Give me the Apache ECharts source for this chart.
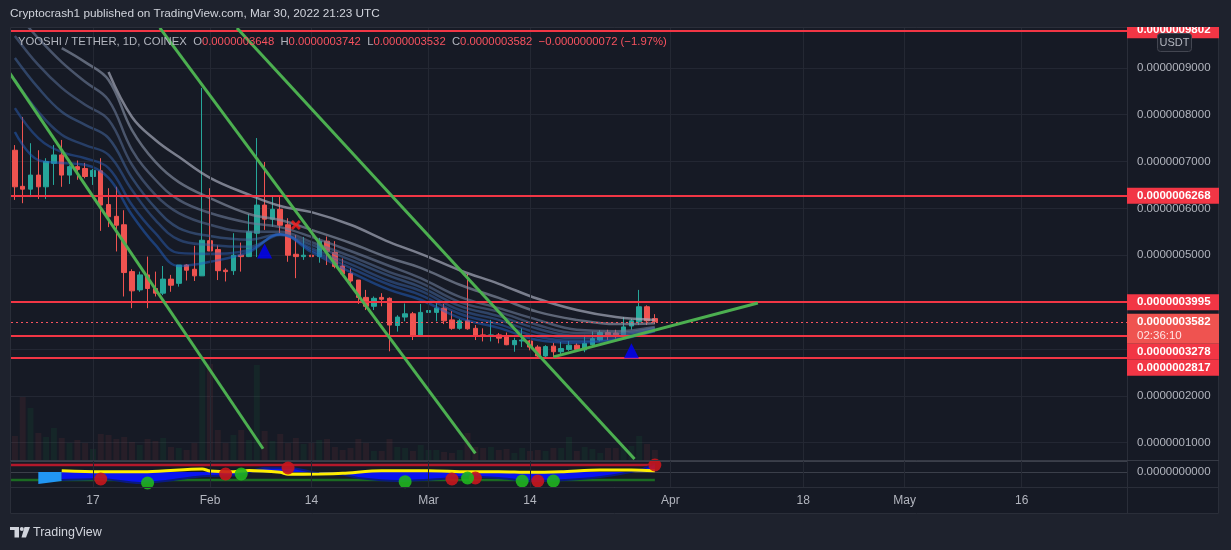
<!DOCTYPE html>
<html><head><meta charset="utf-8">
<script src="https://cdn.jsdelivr.net/npm/echarts@6/dist/echarts.min.js"></script>
<style>html,body{margin:0;padding:0;background:#1e222d;}#c{width:1231px;height:550px;}</style>
</head><body><div id="c"></div>
<script>
// All prices are in units of 1e-7 USDT
const PRICE_UNIT = 1e-7;
const FONT = '"Liberation Sans", Arial, sans-serif';

// daily categories Jan 7 .. May 29, 2022
const categories = [];
for (let i = 0; i < 143; i++) { categories.push(new Date(Date.UTC(2022, 0, 7) + i * 86400000).toISOString().slice(0, 10)); }
const tickDates = ['2022-01-17','2022-02-01','2022-02-14','2022-03-01','2022-03-14','2022-04-01','2022-04-18','2022-05-01','2022-05-16'];
const tickLabels = ['17','Feb','14','Mar','14','Apr','18','May','16'];

const opens = [7.24,6.47,6.41,6.71,6.46,6.96,7.14,6.71,6.89,6.85,6.68,6.80,6.08,5.83,5.65,4.65,4.26,4.58,4.29,4.19,4.49,4.40,4.79,4.70,4.56,5.31,5.12,4.68,4.67,5.00,4.97,5.47,6.07,5.77,5.98,5.65,5.02,4.97,5.00,4.97,5.30,5.06,4.77,4.61,4.47,4.10,3.91,4.10,4.08,3.50,3.68,3.75,3.28,3.78,3.78,3.87,3.62,3.44,3.60,3.44,3.30,3.27,3.30,3.26,3.09,3.17,3.17,3.04,2.85,3.06,2.94,2.99,3.08,2.98,3.09,3.19,3.35,3.34,3.30,3.49,3.58,3.90,3.648];
const closes = [6.46,6.41,6.71,6.46,7.00,7.14,6.71,6.89,6.83,6.68,6.81,6.07,5.82,5.64,4.63,4.24,4.58,4.29,4.19,4.49,4.36,4.79,4.68,4.56,5.32,5.09,4.67,4.65,5.00,4.97,5.50,6.07,5.77,5.98,5.64,5.00,4.97,5.00,4.97,5.30,5.08,4.76,4.60,4.45,4.10,3.91,4.08,4.06,3.51,3.68,3.75,3.28,3.78,3.82,3.87,3.60,3.44,3.60,3.43,3.28,3.27,3.30,3.23,3.09,3.18,3.19,3.04,2.85,3.05,2.94,3.01,3.08,2.99,3.12,3.22,3.35,3.28,3.28,3.47,3.60,3.90,3.60,3.582];
const lows = [6.18,6.11,6.24,6.20,6.20,6.50,6.46,6.52,6.61,6.64,6.50,5.52,5.60,5.08,4.12,3.87,4.22,3.87,4.12,4.15,4.22,4.33,4.46,4.45,4.56,5.09,4.47,4.44,4.58,4.65,4.96,4.96,5.54,5.61,5.47,4.86,4.51,4.90,4.76,4.84,4.79,4.72,4.58,4.32,3.96,3.83,3.83,3.91,2.95,3.37,3.59,3.19,3.28,3.59,3.59,3.53,3.41,3.41,3.41,3.19,3.16,3.16,3.12,3.08,2.94,3.04,2.97,2.83,2.83,2.83,2.89,2.96,2.96,2.93,3.06,3.16,3.19,3.22,3.28,3.41,3.51,3.51,3.532];
const highs = [7.35,7.95,7.39,7.24,7.07,7.35,7.46,6.92,7.02,6.97,6.84,7.07,6.43,6.46,5.96,4.70,4.65,4.97,4.65,4.77,4.58,4.79,4.81,5.20,8.57,6.43,5.21,4.72,5.47,5.27,5.88,7.50,6.99,6.25,6.28,5.79,5.43,5.39,5.24,5.37,5.40,5.30,4.93,4.72,4.47,4.26,4.12,4.19,4.10,3.72,3.97,3.79,3.96,4.01,4.00,3.96,3.81,3.64,4.60,3.51,3.44,3.62,3.34,3.35,3.24,3.44,3.19,3.08,3.08,3.13,3.15,3.17,3.12,3.30,3.37,3.40,3.41,3.41,3.68,3.64,4.26,3.93,3.742];
// volume (relative units)
const volumes = [24,63,52,27,23,32,22,17,20,17,11,26,25,21,23,18,15,21,19,22,13,12,10,17,100,96,30,17,25,30,20,95,29,19,26,17,22,16,17,20,21,13,10,12,21,17,9,9,21,13,12,9,15,10,10,8,7,10,27,13,12,13,10,11,7,12,9,10,9,12,12,23,9,13,11,7,12,12,13,14,24,16,10];

// moving-average ribbon, sampled at day indices
const emaIdx = [0,3,6,9,12,15,18,21,25,30,34,38,43,48,52,57,62,67,72,77,82];
const ema1 = [7.63,7.03,6.97,6.93,6.65,5.86,5.22,4.77,4.86,5.07,5.45,5.07,4.64,4.26,4.05,3.66,3.45,3.19,3.13,3.19,3.38];
const ema2 = [8.14,7.50,7.20,7.07,6.86,6.07,5.47,5.05,5.03,5.11,5.45,5.11,4.73,4.37,4.15,3.75,3.53,3.26,3.17,3.21,3.38];
const ema3 = [8.74,8.06,7.57,7.35,7.14,6.39,5.75,5.33,5.22,5.18,5.43,5.15,4.81,4.45,4.24,3.83,3.62,3.34,3.23,3.26,3.41];
const ema4 = [9.21,8.57,8.06,7.78,7.50,6.65,6.01,5.58,5.41,5.33,5.45,5.22,4.90,4.56,4.32,3.92,3.70,3.43,3.28,3.30,3.43];
const ema5 = [9.68,9.06,8.57,8.21,7.89,6.93,6.29,5.90,5.65,5.50,5.50,5.28,4.98,4.64,4.41,4.00,3.79,3.51,3.34,3.34,3.45];
const ema6 = [10.2,9.63,9.12,8.70,8.31,7.25,6.61,6.18,5.90,5.69,5.60,5.39,5.09,4.77,4.51,4.11,3.87,3.62,3.41,3.38,3.47];
const ema7 = [null,null,9.42,9.12,8.74,7.67,6.99,6.56,6.22,5.88,5.75,5.54,5.26,4.94,4.73,4.37,4.09,3.79,3.62,3.53,3.55];
const ema8 = [null,null,null,null,8.91,7.95,7.46,7.10,6.65,6.29,6.05,5.92,5.65,5.28,5.03,4.68,4.39,4.07,3.83,3.68,3.62];
const emaSets = [ema8, ema7, ema6, ema5, ema4, ema3, ema2, ema1];
const emaColors = ['rgba(165,170,185,0.7)','rgba(135,145,165,0.65)','rgba(110,125,155,0.6)','rgba(90,112,152,0.55)','rgba(70,104,158,0.55)','rgba(55,98,168,0.5)','rgba(42,94,182,0.5)','rgba(34,98,200,0.5)'];

// drawn trend lines: [dayIndex, price]
const trendLines = [
  [[-0.68, 8.89], [31.8, 0.87]],
  [[18.57, 9.85], [59.0, 0.77]],
  [[28.45, 9.85], [79.4, 0.65]],
  [[69.0, 2.83], [95.2, 3.98]]
];
// horizontal levels
const levels = [9.802, 6.268, 3.995, 3.278, 2.817];
const lastPrice = 3.582;
const countdown = '02:36:10';
// signal markers [dayIndex, price]
const upSignals = [[32, 5.09], [79, 2.96]];
const crossSignals = [[36, 5.645]];

// lower oscillator pane
const yellowIdx = [6,11,17,24,25,28,30,34,35,39,42,47,53,58,62,66,70,75,79,82];
const yellowVal = [1.3,0.3,0.3,3,1,0.3,1.6,-0.3,-2.3,-2,-1.3,1.3,1.3,0.3,0.3,-0.3,0.3,2,2,1.3];
const blueIdx = [6,11,16,24,29,32,35,39,42,44,49,55,58,62,66,70,75,80,82];
const blueVal = [-8,-7,-11,-4.3,-2.7,4.3,4.3,-1.3,-2.7,-6,-9,-6.7,-4.7,-6,-9,-8.3,-5,2,8.7];
const startBlockIdx = [3, 6];
const startBlockVal = [-12, -9];
const oscUpper = 7, oscLower = -8;
const redDots = [[11,-7],[27,-2],[35,4],[56,-7],[59,-6],[67,-9],[82,7]];
const greenDots = [[17,-11],[29,-2],[50,-9.7],[58,-6],[65,-9],[69,-9]];

const fmt = v => (v * PRICE_UNIT).toFixed(10);
const zip = (xs, ys) => xs.map((x, i) => ys[i] == null ? null : [x, ys[i]]).filter(p => p);

const candleData = opens.map((o, i) => [o, closes[i], lows[i], highs[i]]);
const volData = volumes.map((v, i) => ({ value: v, itemStyle: { color: closes[i] >= opens[i] ? 'rgba(20,150,70,0.10)' : 'rgba(239,83,80,0.08)' } }));
const tickIdx = tickDates.map(d => categories.indexOf(d));

const series = [];
series.push({ type: 'line', xAxisIndex: 1, yAxisIndex: 0, data: [[-100, -100]], showSymbol: false, z: 1, silent: true,
  markLine: { silent: true, symbol: ['none','none'], label: { show: false }, lineStyle: { color: '#242833', type: 'solid', width: 1 }, data: tickIdx.map(i => ({ xAxis: i })) } });
series.push({ type: 'line', xAxisIndex: 3, yAxisIndex: 2, data: [[-100, -100]], showSymbol: false, z: 1, silent: true,
  markLine: { silent: true, symbol: ['none','none'], label: { show: false }, lineStyle: { color: '#242833', type: 'solid', width: 1 }, data: tickIdx.map(i => ({ xAxis: i })) } });
series.push({ type: 'bar', xAxisIndex: 0, yAxisIndex: 1, data: volData, barWidth: 6, z: 1, silent: true });
series.push({ type: 'candlestick', xAxisIndex: 0, yAxisIndex: 0, data: candleData, barWidth: 5, z: 2,
  itemStyle: { color: '#26a69a', color0: '#ef5350', borderColor: '#26a69a', borderColor0: '#ef5350', borderWidth: 1 } });
emaSets.forEach((arr, k) => series.push({ type: 'line', xAxisIndex: 1, yAxisIndex: 0, data: zip(emaIdx, arr), smooth: 0.4, showSymbol: false, z: 3, silent: true, lineStyle: { color: emaColors[k], width: 2.5 } }));
series.push({ type: 'line', xAxisIndex: 1, yAxisIndex: 0, data: [[-100, -100]], showSymbol: false, z: 4, silent: true,
  markLine: { silent: true, symbol: ['none','none'], label: { show: false },
    data: levels.map(v => ({ yAxis: v, lineStyle: { color: '#f23645', width: 2, type: 'solid' } })).concat([{ yAxis: lastPrice, lineStyle: { color: '#f7525f', width: 1, type: [2, 3] } }]) } });
trendLines.forEach(seg => series.push({ type: 'line', xAxisIndex: 1, yAxisIndex: 0, data: seg, showSymbol: false, z: 5, silent: true, lineStyle: { color: '#4caf50', width: 3 } }));
series.push({ type: 'scatter', xAxisIndex: 1, yAxisIndex: 0, data: upSignals, symbol: 'triangle', symbolSize: [15, 15], itemStyle: { color: '#0000ff' }, z: 6 });
series.push({ type: 'scatter', xAxisIndex: 1, yAxisIndex: 0, data: crossSignals, symbol: 'path://M2,0L5,3L8,0L10,2L7,5L10,8L8,10L5,7L2,10L0,8L3,5L0,2Z', symbolSize: 10, itemStyle: { color: '#ff1a1a' }, z: 6 });
// oscillator
series.push({ type: 'line', xAxisIndex: 3, yAxisIndex: 2, data: [[-0.5, oscUpper], [82, oscUpper]], showSymbol: false, silent: true, z: 2, lineStyle: { color: '#b2182b', width: 2.5 } });
series.push({ type: 'line', xAxisIndex: 3, yAxisIndex: 2, data: [[-0.5, oscLower], [82, oscLower]], showSymbol: false, silent: true, z: 2, lineStyle: { color: '#1b6a22', width: 2.5 } });
series.push({ type: 'line', xAxisIndex: 3, yAxisIndex: 2, data: zip(startBlockIdx, startBlockVal), showSymbol: false, silent: true, z: 3, lineStyle: { width: 0 }, areaStyle: { color: '#2196f3', opacity: 1 } });
series.push({ type: 'line', xAxisIndex: 3, yAxisIndex: 2, data: zip(blueIdx, blueVal), smooth: 0.3, showSymbol: false, silent: true, z: 3, lineStyle: { color: '#0a1a80', width: 2 }, areaStyle: { color: '#0a14f0', opacity: 1 } });
series.push({ type: 'line', xAxisIndex: 3, yAxisIndex: 2, data: zip(yellowIdx, yellowVal), smooth: 0.3, showSymbol: false, silent: true, z: 4, lineStyle: { color: '#ffee00', width: 3 } });
series.push({ type: 'scatter', xAxisIndex: 3, yAxisIndex: 2, data: redDots, symbolSize: 13, itemStyle: { color: '#c8161d', opacity: 0.9 }, z: 5 });
series.push({ type: 'scatter', xAxisIndex: 3, yAxisIndex: 2, data: greenDots, symbolSize: 13, itemStyle: { color: '#1fb51f', opacity: 0.9 }, z: 5 });

const chart = echarts.init(document.getElementById('c'));
chart.setOption({
  backgroundColor: '#161a25',
  animation: false,
  textStyle: { fontFamily: FONT },
  grid: [
    { left: 11, width: 1116, top: 27, height: 433 },
    { left: 11, width: 1116, top: 461, height: 26 }
  ],
  xAxis: [
    { type: 'category', gridIndex: 0, data: categories, boundaryGap: true, show: false },
    { type: 'value', gridIndex: 0, min: -0.5, max: 142.5, show: false },
    { type: 'category', gridIndex: 1, data: categories, boundaryGap: true, axisLine: { show: false }, axisTick: { show: false }, splitLine: { show: false },
      axisLabel: { interval: (i, v) => tickDates.includes(v), formatter: v => { const k = tickDates.indexOf(v); return k >= 0 ? tickLabels[k] : ''; }, color: '#b2b5be', fontSize: 12, margin: 8, fontFamily: FONT } },
    { type: 'value', gridIndex: 1, min: -0.5, max: 142.5, show: false }
  ],
  yAxis: [
    { type: 'value', gridIndex: 0, position: 'right', min: 0.63, max: 9.87, splitNumber: 9, axisLine: { show: false }, axisTick: { show: false },
      splitLine: { lineStyle: { color: '#232733' } },
      axisLabel: { showMinLabel: false, showMaxLabel: false, color: '#b2b5be', fontSize: 11.5, margin: 10, fontFamily: FONT, formatter: v => fmt(v) } },
    { type: 'value', gridIndex: 0, min: 0, max: 433, show: false },
    { type: 'value', gridIndex: 1, position: 'right', min: -15, max: 11, interval: 15, axisLine: { show: false }, axisTick: { show: false },
      splitLine: { lineStyle: { color: '#3b3f4a' } },
      axisLabel: { showMinLabel: false, showMaxLabel: false, color: '#b2b5be', fontSize: 11.5, margin: 10, fontFamily: FONT, formatter: v => v === 0 ? fmt(0) : '' } }
  ],
  series: series
});

// overlay: frame, header, footer, price labels
const g = [];
const BG = '#1e222d';
g.push({ type: 'rect', shape: { x: 0, y: 0, width: 1231, height: 27 }, style: { fill: BG }, z: 50, silent: true });
g.push({ type: 'rect', shape: { x: 0, y: 514, width: 1231, height: 36 }, style: { fill: BG }, z: 50, silent: true });
g.push({ type: 'rect', shape: { x: 0, y: 0, width: 10, height: 550 }, style: { fill: BG }, z: 50, silent: true });
g.push({ type: 'rect', shape: { x: 1219, y: 0, width: 12, height: 550 }, style: { fill: BG }, z: 50, silent: true });
g.push({ type: 'rect', shape: { x: 10.5, y: 27.5, width: 1208, height: 486 }, style: { fill: null, stroke: '#2a2e39', lineWidth: 1 }, z: 51, silent: true });
g.push({ type: 'line', shape: { x1: 1127.5, y1: 27, x2: 1127.5, y2: 514 }, style: { stroke: '#2a2e39', lineWidth: 1 }, z: 51, silent: true });
g.push({ type: 'line', shape: { x1: 10, y1: 460.5, x2: 1219, y2: 460.5 }, style: { stroke: '#363a45', lineWidth: 1 }, z: 51, silent: true });
g.push({ type: 'line', shape: { x1: 10, y1: 487.5, x2: 1219, y2: 487.5 }, style: { stroke: '#2a2e39', lineWidth: 1 }, z: 51, silent: true });

// price labels
const labelItems = levels.map(v => ({ v, lines: 1, color: '#f23645' })).concat([{ v: lastPrice, lines: 2, color: '#ef5350' }]);
labelItems.forEach(it => { it.y = chart.convertToPixel({ yAxisIndex: 0 }, it.v); });
labelItems.sort((a, b) => a.y - b.y);
let prevBottom = -1e9;
labelItems.forEach(it => {
  const h = it.lines === 2 ? 30 : 16;
  let top = it.y - 8;
  if (top < prevBottom) top = prevBottom;
  prevBottom = top + h;
  g.push({ type: 'rect', shape: { x: 1127, y: top, width: 92, height: h }, style: { fill: it.color }, z: 60, silent: true });
  g.push({ type: 'text', x: 1137, y: top + 8, style: { text: fmt(it.v), fill: '#ffffff', font: 'bold 11.5px ' + FONT, verticalAlign: 'middle', align: 'left' }, z: 61, silent: true });
  if (it.lines === 2) g.push({ type: 'text', x: 1137, y: top + 22, style: { text: countdown, fill: '#ffe3e3', font: '11.5px ' + FONT, verticalAlign: 'middle', align: 'left' }, z: 61, silent: true });
});
// cover above top edge in axis area
g.push({ type: 'rect', shape: { x: 1120, y: 0, width: 111, height: 27 }, style: { fill: BG }, z: 62, silent: true });
// USDT badge
g.push({ type: 'rect', shape: { x: 1157.5, y: 33.5, width: 34, height: 18, r: 3 }, style: { fill: '#1e222d', stroke: '#434651', lineWidth: 1 }, z: 63, silent: true });
g.push({ type: 'text', x: 1174.5, y: 42.5, style: { text: 'USDT', fill: '#b2b5be', font: '11px ' + FONT, align: 'center', verticalAlign: 'middle' }, z: 64, silent: true });

// header
g.push({ type: 'text', x: 10, y: 14, style: { text: 'Cryptocrash1 published on TradingView.com, Mar 30, 2022 21:23 UTC', fill: '#d1d4dc', font: '11.8px ' + FONT, verticalAlign: 'middle' }, z: 64, silent: true });
g.push({ type: 'text', x: 18, y: 42, style: {
  text: '{g|YOOSHI / TETHER, 1D, COINEX  O}{r|0.0000003648}{g|  H}{r|0.0000003742}{g|  L}{r|0.0000003532}{g|  C}{r|0.0000003582}{r|  −0.0000000072 (−1.97%)}',
  font: '11.3px ' + FONT, verticalAlign: 'middle',
  rich: { g: { fill: '#b2b5be', fontSize: 11.3, fontFamily: FONT }, r: { fill: '#f7525f', fontSize: 11.3, fontFamily: FONT } } }, z: 64, silent: true });

// footer logo
g.push({ type: 'rect', shape: { x: 10, y: 527, width: 9, height: 3 }, style: { fill: '#d1d4dc' }, z: 64, silent: true });
g.push({ type: 'rect', shape: { x: 14.5, y: 527, width: 4.5, height: 10.5 }, style: { fill: '#d1d4dc' }, z: 64, silent: true });
g.push({ type: 'circle', shape: { cx: 21.8, cy: 529, r: 2 }, style: { fill: '#d1d4dc' }, z: 64, silent: true });
g.push({ type: 'polygon', shape: { points: [[24.5, 527], [30, 527], [26, 537.5], [21.5, 537.5]] }, style: { fill: '#d1d4dc' }, z: 64, silent: true });
g.push({ type: 'text', x: 33, y: 532.5, style: { text: 'TradingView', fill: '#d1d4dc', font: '12.5px ' + FONT, verticalAlign: 'middle' }, z: 64, silent: true });

chart.setOption({ graphic: g });
</script>
</body></html>
